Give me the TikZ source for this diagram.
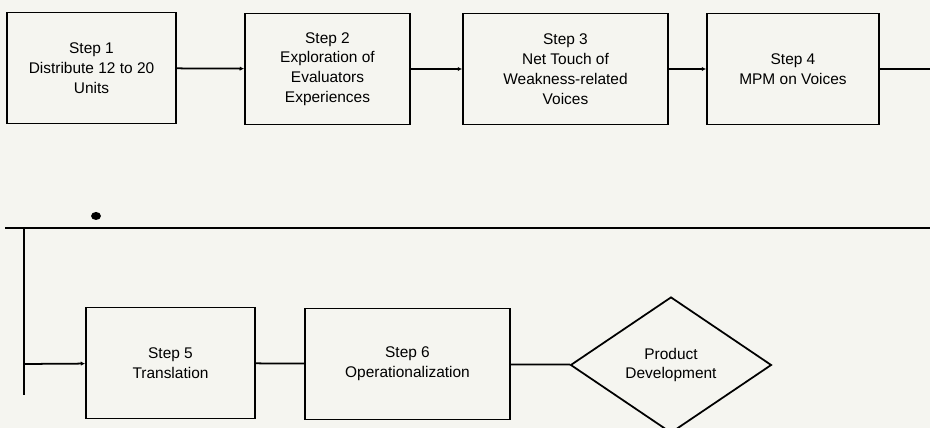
\documentclass[tikz,border=0pt]{standalone}
\usepackage{fontspec}
\setmainfont{Liberation Sans}
\usetikzlibrary{shapes.geometric, arrows.meta, positioning}
\definecolor{paper}{RGB}{245,245,240}

\begin{document}
\begin{tikzpicture}[
    x=0.02cm, y=-0.02cm,
    stepbox/.style={rectangle, draw, line width=1pt, minimum height=2.22cm, align=center,
        font=\fontsize{8.8}{11.3}\selectfont},
    decision/.style={diamond, draw, line width=1pt, inner sep=0pt, minimum width=4.02cm,
        minimum height=2.72cm, align=center, font=\fontsize{8.8}{11.3}\selectfont},
    every edge/.style={draw, line width=1pt, -{Latex[length=2.5pt,width=2.5pt]}}
]
\fill[paper] (0,0) rectangle (930,428);
\useasboundingbox (0,0) rectangle (930,428);
% Steps, first row
\node[stepbox, minimum width=3.38cm] (S1) at (91.5,68) {Step 1\\Distribute 12 to 20\\Units};
\node[stepbox, minimum width=3.30cm] (S2) at (327.5,69) {Step 2\\Exploration of\\Evaluators\\Experiences};
\node[stepbox, minimum width=4.10cm] (S3) at (565.5,69) {Step 3\\Net Touch of\\Weakness-related\\Voices};
\node[stepbox, minimum width=3.44cm] (S4) at (793,69) {Step 4\\MPM on Voices};
% Steps, second row
\node[stepbox, minimum width=3.38cm] (S5) at (170.5,363) {Step 5\\Translation};
\node[stepbox, minimum width=4.10cm] (S6) at (407.5,364) {Step 6\\Operationalization};
\node[decision] (PD) at (671,365) {Product\\Development};
% Return line
\coordinate (R1) at (930,69);
\coordinate (R2) at (930,228);
\coordinate (L1) at (5,228);
\coordinate (V1) at (24,228);
\coordinate (V2) at (24,395);
\coordinate (B1) at (24,364);
\fill (96,216) ellipse (5 and 4);
% Edges between steps
\path (S1) edge (S2);
\path (S2) edge (S3);
\path (S3) edge (S4);
\draw[line width=1pt] (S4) -- (R1);
\draw[line width=1pt] (R2) -- (L1);
\draw[line width=1pt] (V1) -- (V2);
\path (B1) edge (S5);
\draw[line width=1pt] (S5) -- (S6);
\draw[line width=1pt] (S6) -- (PD);
\end{tikzpicture}
\end{document}
